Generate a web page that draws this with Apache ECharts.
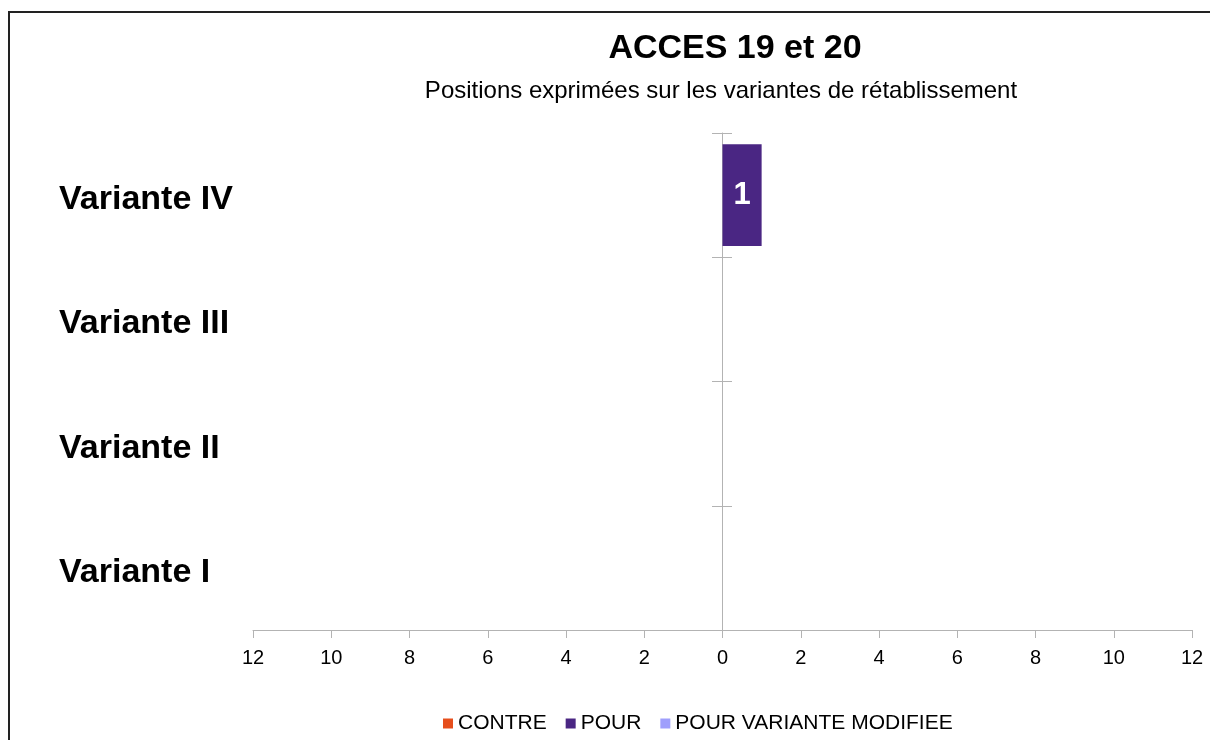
<!DOCTYPE html>
<html>
<head>
<meta charset="utf-8">
<script src="https://cdn.jsdelivr.net/npm/echarts@6/dist/echarts.min.js"></script>
<style>
  html, body { margin: 0; padding: 0; background: #fff; overflow: hidden; }
  #chart { position: absolute; left: 0; top: 0; width: 1210px; height: 740px; }
  .frame {
    position: absolute; left: 8px; top: 11px; width: 1230px; height: 760px;
    border: 2px solid #222; box-sizing: border-box; pointer-events: none;
  }
</style>
</head>
<body>
<div id="chart"></div>
<div class="frame"></div>
<script>
  // categories bottom -> top
  const variantes = ['Variante I', 'Variante II', 'Variante III', 'Variante IV'];
  // CONTRE counted on the left side (negative)
  const contre = [0, 0, 0, 0];
  const pour = [0, 0, 0, 1];
  const pourModifiee = [0, 0, 0, 0];
  const xTicks = [-12, 12, 2];

  const chart = echarts.init(document.getElementById('chart'));

  const barLabel = {
    show: true,
    position: 'inside',
    color: '#fff',
    fontFamily: 'Liberation Sans',
    fontWeight: 'bold',
    fontSize: 31,
    formatter: (p) => (p.value === 0 ? '' : String(Math.abs(p.value)))
  };

  const option = {
    backgroundColor: '#fff',
    animation: false,
    title: [
      {
        text: 'ACCES 19 et 20',
        left: 730,
        top: 27,
        textAlign: 'center',
        textStyle: { fontFamily: 'Liberation Sans', fontWeight: 'bold', fontSize: 34, color: '#000' }
      },
      {
        text: 'Positions exprimées sur les variantes de rétablissement',
        left: 716,
        top: 74,
        textAlign: 'center',
        textStyle: { fontFamily: 'Liberation Sans', fontWeight: 'normal', fontSize: 24, color: '#000' }
      }
    ],
    legend: {
      left: 438,
      top: 708,
      icon: 'rect',
      itemWidth: 10,
      itemHeight: 10,
      itemGap: 19,
      textStyle: { fontFamily: 'Liberation Sans', fontSize: 21, color: '#000' },
      data: ['CONTRE', 'POUR', 'POUR VARIANTE MODIFIEE']
    },
    grid: { left: 253, right: 18, top: 133, bottom: 110 },
    xAxis: {
      type: 'value',
      min: xTicks[0],
      max: xTicks[1],
      interval: xTicks[2],
      axisLine: { show: true, onZero: false, lineStyle: { color: '#b3b3b3', width: 1 } },
      axisTick: { show: true, length: 8, lineStyle: { color: '#b3b3b3' } },
      splitLine: { show: false },
      axisLabel: {
        margin: 18,
        fontFamily: 'Liberation Sans',
        fontSize: 20,
        color: '#000',
        formatter: (v) => String(Math.abs(v))
      }
    },
    yAxis: [
      {
        type: 'category',
        data: variantes,
        axisLine: { show: false },
        axisTick: { show: false },
        axisLabel: {
          align: 'left',
          margin: 194,
          formatter: '{v|{value}}',
          rich: {
            v: {
              padding: [9, 0, 0, 0],
              fontFamily: 'Liberation Sans',
              fontWeight: 'bold',
              fontSize: 34,
              color: '#000'
            }
          }
        }
      },
      {
        type: 'category',
        data: variantes,
        position: 'left',
        offset: -469,
        axisLine: { show: true, lineStyle: { color: '#b3b3b3' } },
        axisTick: { show: true, length: 10, lineStyle: { color: '#b3b3b3' } },
        axisLabel: { show: false }
      },
      {
        type: 'category',
        data: variantes,
        position: 'left',
        offset: -469,
        axisLine: { show: false },
        axisTick: { show: true, inside: true, length: 10, lineStyle: { color: '#b3b3b3' } },
        axisLabel: { show: false }
      }
    ],
    series: [
      {
        name: 'CONTRE',
        type: 'bar',
        stack: 'total',
        barCategoryGap: '18%',
        itemStyle: { color: '#e64e1c' },
        label: barLabel,
        data: contre
      },
      {
        name: 'POUR',
        type: 'bar',
        stack: 'total',
        barCategoryGap: '18%',
        itemStyle: { color: '#4a2683' },
        label: barLabel,
        data: pour
      },
      {
        name: 'POUR VARIANTE MODIFIEE',
        type: 'bar',
        stack: 'total',
        barCategoryGap: '18%',
        itemStyle: { color: '#9f9ffc' },
        label: barLabel,
        data: pourModifiee
      }
    ]
  };

  chart.setOption(option);
</script>
</body>
</html>
